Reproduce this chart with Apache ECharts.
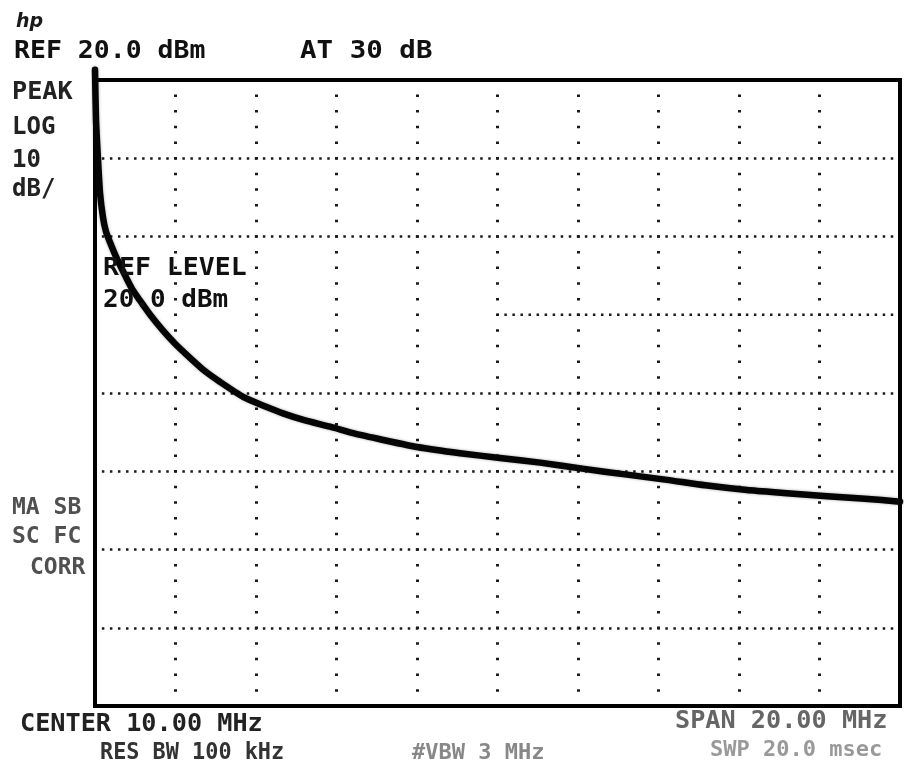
<!DOCTYPE html>
<html>
<head>
<meta charset="utf-8">
<title>Spectrum analyzer trace</title>
<script src="https://cdn.jsdelivr.net/npm/echarts@6/dist/echarts.min.js"></script>
<style>
  html, body { margin: 0; padding: 0; background: #ffffff; }
  #chart { width: 906px; height: 771px; }
</style>
</head>
<body>
<div id="chart"></div>
<script>
// Trace samples: frequency (MHz) and level (dBm)
const freqMHz = [
  0.00, 0.025, 0.075, 0.124, 0.20, 0.27, 0.37, 0.55, 0.75, 0.92,
  1.12, 1.37, 1.67, 1.99, 2.36, 2.73, 3.11, 3.68, 4.22, 4.67,
  5.22, 5.84, 6.46, 7.16, 8.00, 9.07, 10.06, 11.06, 12.15, 13.17,
  14.21, 15.16, 16.20, 17.19, 18.19, 19.13, 20.00
];
const levelDbm = [
  21.3, 14.9, 9.8, 5.6, 2.4, 0.7, -0.7, -2.9, -5.0, -6.7,
  -8.2, -10.0, -11.9, -13.7, -15.5, -17.2, -18.6, -20.5, -21.7, -22.6,
  -23.5, -24.3, -25.2, -26.0, -26.9, -27.7, -28.3, -28.9, -29.7, -30.4,
  -31.1, -31.8, -32.4, -32.8, -33.2, -33.5, -33.9
];

// Axis scale: 0..20 MHz span, 10 dB/div from +20 dBm reference
const freqMin = 0, freqMax = 20, freqStep = 2;
const dbMin = -60, dbMax = 20, dbStep = 10;

// Graticule line drawn only over the right half of the screen
const halfLineFreq = [10, 20];
const halfLineLevel = -10;

// Annotation text
const headerLeft = 'REF 20.0 dBm';
const headerRight = 'AT 30 dB';
const sideTop = ['PEAK', 'LOG', '10', 'dB/'];
const refLevel = ['REF LEVEL', '20.0 dBm'];
const sideBottom = ['MA SB', 'SC FC', 'CORR'];
const footer = {
  center: 'CENTER 10.00 MHz',
  rbw: 'RES BW 100 kHz',
  vbw: '#VBW 3 MHz',
  span: 'SPAN 20.00 MHz',
  sweep: 'SWP 20.0 msec'
};

const gridLeft = 95, gridTop = 80, gridWidth = 805, gridHeight = 626;
const mono = '"DejaVu Sans Mono", "Liberation Mono", monospace';

// horizontal graticule: transparent where the half line is drawn separately
const hColors = [];
for (let v = dbMin + dbStep; v < dbMax; v += dbStep) {
  hColors.push(v === halfLineLevel ? 'rgba(0,0,0,0)' : '#1a1a1a');
}

const hDash = [2.5, gridWidth / 100 - 2.5];
const vDash = [2.5, gridHeight / 40 - 2.5];

function label(text, x, y, size, color, sx) {
  return {
    type: 'text', x: x, y: y, scaleX: sx || 1, z: 10,
    style: {
      text: text,
      font: 'bold ' + size + 'px ' + mono,
      fill: color,
      align: 'left',
      verticalAlign: 'middle'
    }
  };
}

const graphics = [
  {
    type: 'text', x: 16, y: 22, z: 10,
    style: { text: 'hp', font: 'italic bold 19px "DejaVu Sans", sans-serif', fill: '#1a1a1a', align: 'left', verticalAlign: 'middle' }
  },
  label(headerLeft, 14, 51, 25, '#111', 1.06),
  label(headerRight, 300, 51, 25, '#111', 1.1),
  label(sideTop[0], 12, 93, 24, '#222', 1.05),
  label(sideTop[1], 12, 128, 24, '#222', 1.0),
  label(sideTop[2], 12, 161, 24, '#222', 1.0),
  label(sideTop[3], 12, 190, 24, '#222', 1.0),
  label(refLevel[0], 103, 268, 25, '#111', 1.06),
  label(refLevel[1], 103, 300, 25, '#111', 1.04),
  label(sideBottom[0], 12, 508, 23, '#505050', 1.0),
  label(sideBottom[1], 12, 537, 23, '#505050', 1.0),
  label(sideBottom[2], 30, 568, 23, '#505050', 1.0),
  label(footer.center, 20, 725, 24, '#222', 1.05),
  label(footer.rbw, 100, 753, 23, '#333', 0.95),
  label(footer.vbw, 412, 753, 22, '#888', 1.0),
  label(footer.span, 675, 722, 24, '#666', 1.05),
  label(footer.sweep, 710, 750, 22, '#999', 1.0)
];

const chart = echarts.init(document.getElementById('chart'), null, { renderer: 'canvas' });

chart.setOption({
  animation: false,
  backgroundColor: '#ffffff',
  grid: {
    left: gridLeft, top: gridTop, width: gridWidth, height: gridHeight,
    show: true, borderColor: '#000', borderWidth: 4, backgroundColor: 'transparent',
    z: 3
  },
  xAxis: {
    type: 'value', min: freqMin, max: freqMax, interval: freqStep,
    axisLine: { show: false }, axisTick: { show: false }, axisLabel: { show: false },
    splitLine: {
      show: true, showMinLine: false, showMaxLine: false,
      lineStyle: { color: '#1a1a1a', width: 3, type: vDash, dashOffset: 1.2 }
    }
  },
  yAxis: {
    type: 'value', min: dbMin, max: dbMax, interval: dbStep,
    axisLine: { show: false }, axisTick: { show: false }, axisLabel: { show: false },
    splitLine: {
      show: true, showMinLine: false, showMaxLine: false,
      lineStyle: { color: hColors, width: 2.5, type: hDash, dashOffset: 1.2 }
    }
  },
  graphic: graphics,
  series: [
    {
      name: 'graticule',
      type: 'line',
      silent: true,
      symbol: 'none',
      data: halfLineFreq.map(f => [f, halfLineLevel]),
      lineStyle: { color: '#1a1a1a', width: 2.5, type: hDash, dashOffset: 1.2 },
      z: 2
    },
    {
      name: 'trace',
      type: 'line',
      symbol: 'none',
      smooth: 0.2,
      clip: false,
      data: freqMHz.map((f, i) => [f, levelDbm[i]]),
      lineStyle: { color: '#050505', width: 6.5, cap: 'round', join: 'round', shadowColor: 'rgba(0,0,0,0.35)', shadowBlur: 3 },
      z: 5
    }
  ]
});
</script>
</body>
</html>
